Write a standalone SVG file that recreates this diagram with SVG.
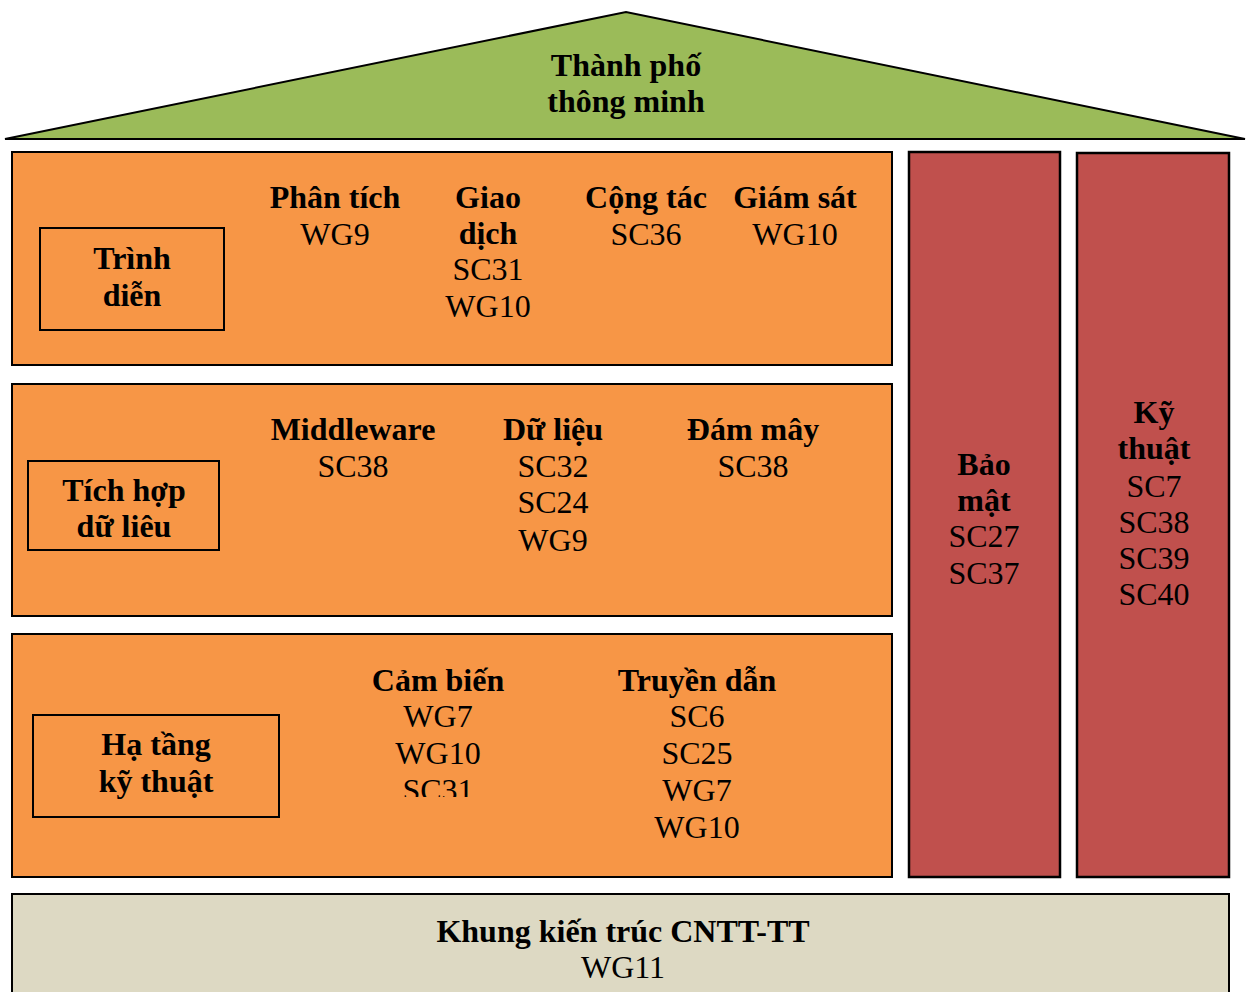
<svg xmlns="http://www.w3.org/2000/svg" width="1247" height="992" viewBox="0 0 1247 992">
<style>
.b{font-family:'Times New Roman','Liberation Serif',Times,'DejaVu Serif',serif;font-size:32px;font-weight:bold;fill:#000;text-anchor:middle}
.r{font-family:'Times New Roman','Liberation Serif',Times,'DejaVu Serif',serif;font-size:32px;fill:#000;text-anchor:middle}
.or{fill:#F79646;stroke:#000;stroke-width:2}
.rd{fill:#C0504D;stroke:#000;stroke-width:2.5}
.lbl{fill:none;stroke:#000;stroke-width:2}
</style>
<defs>
<clipPath id="clipSC31"><rect x="380" y="770" width="120" height="27"/></clipPath>
</defs>
<rect width="1247" height="992" fill="#fff"/>
<g id="roof">
<polygon points="5,139 626,12 1245,139" fill="#9BBB59" stroke="#000" stroke-width="2"/>
<text class="b" x="626" y="76">Thành phố</text>
<text class="b" x="626" y="112">thông minh</text>
</g>
<g id="presentation">
<rect class="or" x="12" y="152" width="880" height="213"/>
<rect class="lbl" x="40" y="228" width="184" height="102"/>
<text class="b" x="132" y="269">Trình</text>
<text class="b" x="132" y="306">diễn</text>
<text class="b" x="335" y="208">Phân tích</text>
<text class="r" x="335" y="245">WG9</text>
<text class="b" x="488" y="208">Giao</text>
<text class="b" x="488" y="244">dịch</text>
<text class="r" x="488" y="280">SC31</text>
<text class="r" x="488" y="317">WG10</text>
<text class="b" x="646" y="208">Cộng tác</text>
<text class="r" x="646" y="245">SC36</text>
<text class="b" x="795" y="208">Giám sát</text>
<text class="r" x="795" y="245">WG10</text>
</g>
<g id="integration">
<rect class="or" x="12" y="384" width="880" height="232"/>
<rect class="lbl" x="28" y="461" width="191" height="89"/>
<text class="b" x="124" y="501">Tích hợp</text>
<text class="b" x="124" y="537">dữ liêu</text>
<text class="b" x="353" y="440">Middleware</text>
<text class="r" x="353" y="477">SC38</text>
<text class="b" x="553" y="440">Dữ liệu</text>
<text class="r" x="553" y="477">SC32</text>
<text class="r" x="553" y="513">SC24</text>
<text class="r" x="553" y="551">WG9</text>
<text class="b" x="753" y="440">Đám mây</text>
<text class="r" x="753" y="477">SC38</text>
</g>
<g id="infrastructure">
<rect class="or" x="12" y="634" width="880" height="243"/>
<rect class="lbl" x="33" y="715" width="246" height="102"/>
<text class="b" x="156" y="755">Hạ tầng</text>
<text class="b" x="156" y="792">kỹ thuật</text>
<text class="b" x="438" y="691">Cảm biến</text>
<text class="r" x="438" y="727">WG7</text>
<text class="r" x="438" y="764">WG10</text>
<text class="r" x="438" y="801" clip-path="url(#clipSC31)">SC31</text>
<text class="b" x="697" y="691">Truyền dẫn</text>
<text class="r" x="697" y="727">SC6</text>
<text class="r" x="697" y="764">SC25</text>
<text class="r" x="697" y="801">WG7</text>
<text class="r" x="697" y="838">WG10</text>
</g>
<g id="security">
<rect class="rd" x="909" y="152" width="151" height="725"/>
<text class="b" x="984" y="475">Bảo</text>
<text class="b" x="984" y="511">mật</text>
<text class="r" x="984" y="547">SC27</text>
<text class="r" x="984" y="584">SC37</text>
</g>
<g id="engineering">
<rect class="rd" x="1077" y="153" width="152" height="724"/>
<text class="b" x="1154" y="423">Kỹ</text>
<text class="b" x="1154" y="459">thuật</text>
<text class="r" x="1154" y="497">SC7</text>
<text class="r" x="1154" y="533">SC38</text>
<text class="r" x="1154" y="569">SC39</text>
<text class="r" x="1154" y="605">SC40</text>
</g>
<g id="framework">
<rect x="12" y="894" width="1217" height="110" fill="#DDD9C3" stroke="#000" stroke-width="2"/>
<text class="b" x="623" y="942">Khung kiến trúc CNTT-TT</text>
<text class="r" x="623" y="978">WG11</text>
</g>
<g id="connectors"/>
</svg>
